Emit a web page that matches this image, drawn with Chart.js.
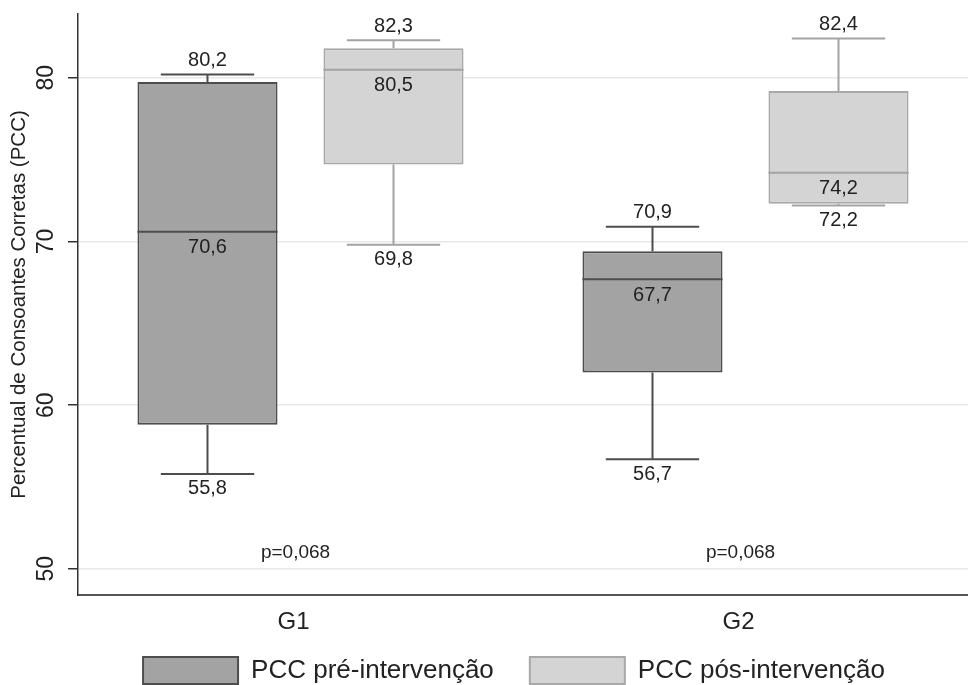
<!DOCTYPE html>
<html>
<head>
<meta charset="utf-8">
<script src="https://cdn.jsdelivr.net/npm/chart.js@4/dist/chart.umd.min.js"></script>
<style>
  html, body { margin: 0; background: #fff; }
  #wrap { width: 968px; height: 685px; }
</style>
</head>
<body>
<div id="wrap"><canvas id="myChart"></canvas></div>
<script>
// data
const groups = ['G1', 'G2'];
const seriesNames = ['PCC pré-intervenção', 'PCC pós-intervenção'];

const preMin = [55.8, 56.7];
const preQ1 = [58.8, 62.0];
const preMedian = [70.6, 67.7];
const preQ3 = [79.75, 69.4];
const preMax = [80.2, 70.9];

const postMin = [69.8, 72.2];
const postQ1 = [74.7, 72.3];
const postMedian = [80.5, 74.2];
const postQ3 = [81.8, 79.2];
const postMax = [82.3, 82.4];

const yTicks = [50, 60, 70, 80];
const pLabels = ['p=0,068', 'p=0,068'];
const pLabelY = [51, 51];

const FONT = "'Liberation Sans', Arial, sans-serif";
const fmt = v => v.toFixed(1).replace('.', ',');

const boxes = [
    { min: preMin, q1: preQ1, med: preMedian, q3: preQ3, max: preMax, line: '#4d4d4d' },
    { min: postMin, q1: postQ1, med: postMedian, q3: postQ3, max: postMax, line: '#a3a3a3' },
];

const boxExtras = {
    id: 'boxExtras',
    afterLayout(chart) {
        // legend sits a bit right of centre in the original
        const lg = chart.legend;
        if (lg) { lg.left += 30; lg.right += 30; }
    },
    beforeDatasetsDraw(chart) {
        const ctx = chart.ctx, y = chart.scales.y;
        boxes.forEach((b, di) => {
            chart.getDatasetMeta(di).data.forEach((bar, i) => {
                const cap = bar.width / 3;
                ctx.save();
                ctx.strokeStyle = b.line;
                ctx.lineWidth = 2;
                ctx.beginPath();
                ctx.moveTo(bar.x, y.getPixelForValue(b.max[i]));
                ctx.lineTo(bar.x, y.getPixelForValue(b.q3[i]));
                ctx.moveTo(bar.x, y.getPixelForValue(b.min[i]));
                ctx.lineTo(bar.x, y.getPixelForValue(b.q1[i]));
                ctx.moveTo(bar.x - cap, y.getPixelForValue(b.max[i]));
                ctx.lineTo(bar.x + cap, y.getPixelForValue(b.max[i]));
                ctx.moveTo(bar.x - cap, y.getPixelForValue(b.min[i]));
                ctx.lineTo(bar.x + cap, y.getPixelForValue(b.min[i]));
                ctx.stroke();
                ctx.restore();
            });
        });
    },
    afterDatasetsDraw(chart) {
        const ctx = chart.ctx, y = chart.scales.y, x = chart.scales.x;
        ctx.save();
        boxes.forEach((b, di) => {
            chart.getDatasetMeta(di).data.forEach((bar, i) => {
                const half = bar.width / 2;
                const ym = y.getPixelForValue(b.med[i]);
                ctx.strokeStyle = b.line;
                ctx.lineWidth = 2;
                ctx.beginPath();
                ctx.moveTo(bar.x - half, ym);
                ctx.lineTo(bar.x + half, ym);
                ctx.stroke();

                ctx.fillStyle = '#222';
                ctx.font = '20px ' + FONT;
                ctx.textAlign = 'center';
                ctx.textBaseline = 'middle';
                ctx.fillText(fmt(b.med[i]), bar.x, ym + 16);
                ctx.fillText(fmt(b.max[i]), bar.x, y.getPixelForValue(b.max[i]) - 14);
                ctx.fillText(fmt(b.min[i]), bar.x, y.getPixelForValue(b.min[i]) + 15);
            });
        });

        ctx.fillStyle = '#222';
        ctx.textAlign = 'center';
        ctx.textBaseline = 'middle';

        // p-values
        ctx.font = '19px ' + FONT;
        groups.forEach((g, i) => {
            ctx.fillText(pLabels[i], x.getPixelForValue(i) - 5, y.getPixelForValue(pLabelY[i]));
        });

        // category labels
        ctx.font = '24px ' + FONT;
        groups.forEach((g, i) => {
            ctx.fillText(g, x.getPixelForValue(i) - 7, x.top + 27);
        });

        // rotated y tick labels
        ctx.font = '23px ' + FONT;
        y.ticks.forEach(t => {
            ctx.save();
            ctx.translate(y.left + 47, y.getPixelForValue(t.value));
            ctx.rotate(-Math.PI / 2);
            ctx.fillText(String(t.value), 0, 0);
            ctx.restore();
        });
        ctx.restore();
    }
};

const pairs = (a, b) => a.map((v, i) => [v, b[i]]);

new Chart(document.getElementById('myChart'), {
    type: 'bar',
    data: {
        labels: groups,
        datasets: [
            {
                label: seriesNames[0],
                data: pairs(preQ1, preQ3),
                backgroundColor: '#a3a3a3',
                borderColor: '#4d4d4d',
                borderWidth: 2,
                borderSkipped: false,
            },
            {
                label: seriesNames[1],
                data: pairs(postQ1, postQ3),
                backgroundColor: '#d4d4d4',
                borderColor: '#a8a8a8',
                borderWidth: 2,
                borderSkipped: false,
            },
        ],
    },
    options: {
        responsive: true,
        maintainAspectRatio: false,
        animation: false,
        layout: { padding: { top: 14, left: 0, right: 0, bottom: -9 } },
        datasets: { bar: { categoryPercentage: 0.836, barPercentage: 0.753 } },
        plugins: {
            legend: {
                position: 'bottom',
                labels: {
                    boxWidth: 95,
                    boxHeight: 27,
                    padding: 36,
                    color: '#222',
                    font: { size: 26, family: FONT },
                },
            },
            tooltip: { enabled: false },
        },
        scales: {
            x: {
                afterFit: s => { s.height = 26; },
                grid: { display: false },
                border: { display: true, color: '#555', width: 2 },
                ticks: { display: false },
            },
            y: {
                min: 48.4,
                max: 83.9,
                afterBuildTicks: s => { s.ticks = yTicks.map(v => ({ value: v })); },
                afterFit: s => { s.width = 78; },
                grid: { color: '#e8e8e8', lineWidth: 1.5, drawTicks: true, tickLength: 10, tickColor: '#333' },
                border: { display: true, color: '#333', width: 1.5 },
                ticks: { display: false },
                title: {
                    display: true,
                    text: 'Percentual de Consoantes Corretas (PCC)',
                    color: '#222',
                    font: { size: 20.5, family: FONT },
                    padding: { top: 7, bottom: 0 },
                },
            },
        },
    },
    plugins: [boxExtras],
});
</script>
</body>
</html>
